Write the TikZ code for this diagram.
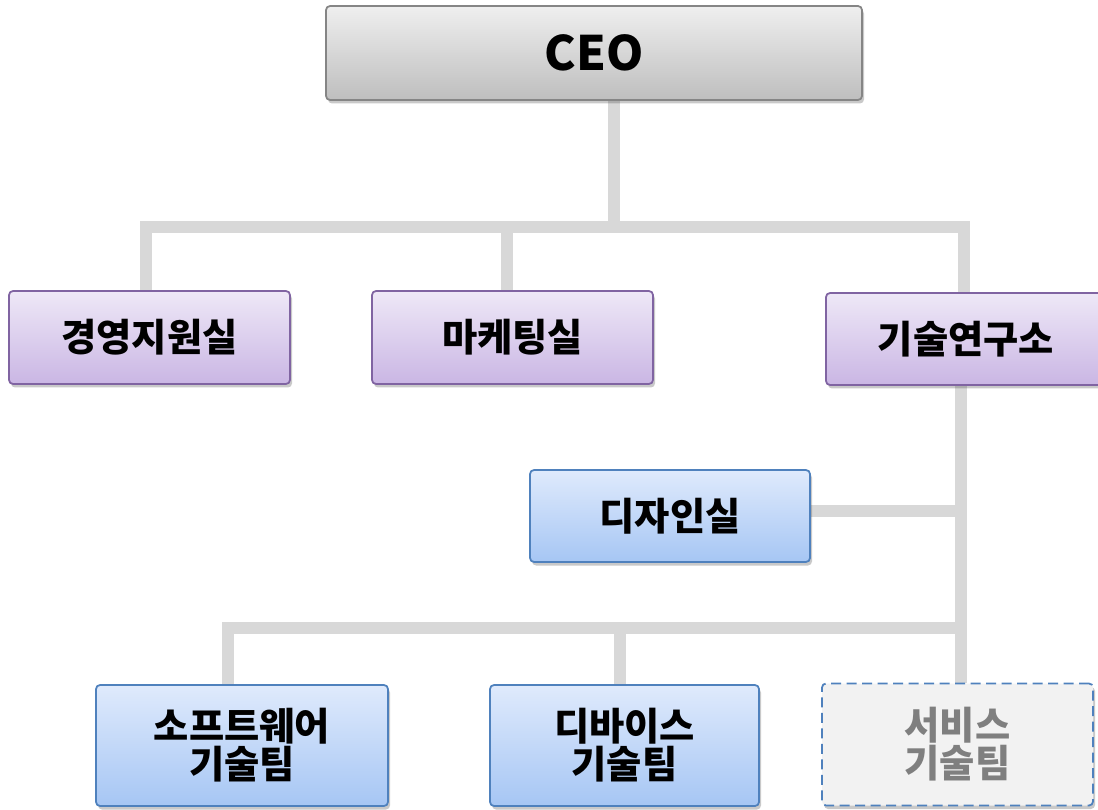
\documentclass[tikz,border=0pt]{standalone}
\usepackage{fontspec}
\newfontfamily\kr{Noto Sans CJK KR}
\usetikzlibrary{shadows,backgrounds}
\definecolor{conncol}{HTML}{D8D8D8}
\definecolor{ceotop}{HTML}{EFEFEF}
\definecolor{ceobot}{HTML}{BEBEBE}
\definecolor{ceoline}{HTML}{858585}
\definecolor{purtop}{HTML}{EEE8F7}
\definecolor{purbot}{HTML}{CAB6E4}
\definecolor{purline}{HTML}{8064A2}
\definecolor{blutop}{HTML}{DFEAFC}
\definecolor{blubot}{HTML}{A6C6F4}
\definecolor{bluline}{HTML}{4F81BD}
\definecolor{svfill}{HTML}{F2F2F2}
\definecolor{svtext}{HTML}{7F7F7F}
\tikzset{
  base/.style={rounded corners=0.08cm, line width=0.035cm, align=center, inner sep=0pt,
    drop shadow={shadow xshift=0.04cm, shadow yshift=-0.07cm, opacity=0.3, fill=black!70},
    font=\kr\bfseries\fontsize{21.8}{21.5}\selectfont},
  ceobox/.style={base, draw=ceoline, top color=ceotop, bottom color=ceobot,
    font=\kr\bfseries\fontsize{27}{30}\selectfont},
  purbox/.style={base, draw=purline, top color=purtop, bottom color=purbot},
  blubox/.style={base, draw=bluline, top color=blutop, bottom color=blubot},
  svbox/.style={base, draw=bluline, fill=svfill, dashed, dash pattern=on 0.2cm off 0.11cm, text=svtext},
  conn/.style={draw=conncol, line width=0.25cm, line join=miter, line cap=butt}
}
\begin{document}
\begin{tikzpicture}[x=0.02cm, y=-0.02cm]
\useasboundingbox (0,0) rectangle (1098,810);
% nodes
\node[ceobox, minimum width=536*0.02cm, minimum height=94*0.02cm] (ceo) at (594,53) {CEO};
\node[purbox, minimum width=281*0.02cm, minimum height=93*0.02cm] (gy) at (149.5,337.5) {경영지원실};
\node[purbox, minimum width=281*0.02cm, minimum height=93*0.02cm] (mk) at (512.5,337.5) {마케팅실};
\node[purbox, minimum width=280*0.02cm, minimum height=92*0.02cm] (gs) at (966,339) {기술연구소};
\node[blubox, minimum width=280*0.02cm, minimum height=92*0.02cm] (dz) at (670,516) {디자인실};
\node[blubox, minimum width=292*0.02cm, minimum height=121*0.02cm] (sw) at (242,745.5) {소프트웨어\\기술팀};
\node[blubox, minimum width=269*0.02cm, minimum height=121*0.02cm] (dv) at (624.5,745.5) {디바이스\\기술팀};
\node[svbox, minimum width=271*0.02cm, minimum height=122*0.02cm] (sv) at (957.5,744.5) {서비스\\기술팀};
% junctions
\coordinate (jT) at (614,227);
\coordinate (bL) at (146,227);
\coordinate (bM) at (507,227);
\coordinate (bR) at (964,227);
\coordinate (v1) at (961,511);
\coordinate (v2) at (961,628);
\coordinate (hL) at (228,628);
\coordinate (hM) at (620,628);
\begin{scope}[on background layer]
\draw[conn] (ceo.south -| jT) -- (jT);
\draw[conn] (gy.north -| bL) -- (bL) -- (bR) -- (gs.north -| bR);
\draw[conn] (mk.north -| bM) -- (bM);
\draw[conn] (gs.south -| v1) -- (sv.north -| v1);
\draw[conn] (dz.east |- v1) -- (v1);
\draw[conn] (sw.north -| hL) -- (hL) -- (v2);
\draw[conn] (dv.north -| hM) -- (hM);
\end{scope}
\end{tikzpicture}
\end{document}
